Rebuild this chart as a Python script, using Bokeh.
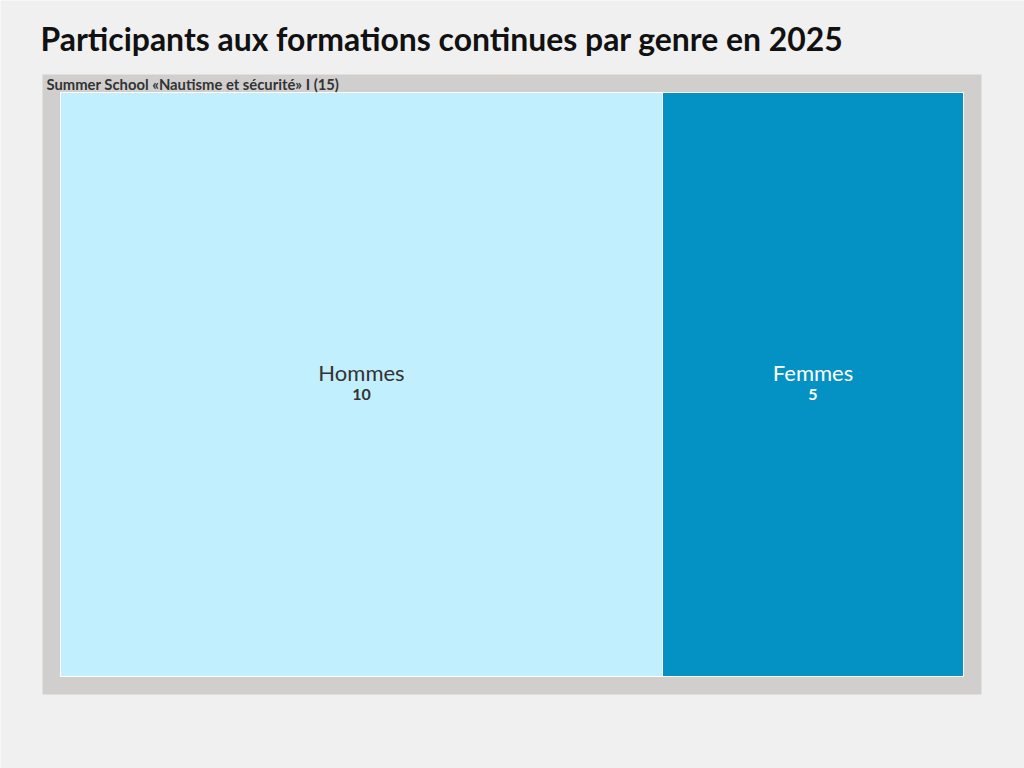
from bokeh.plotting import figure
from bokeh.models import ColumnDataSource, Range1d
from bokeh.core.properties import value
from bokeh.embed import file_html
from bokeh.resources import INLINE

title = "Participants aux formations continues par genre en 2025"
group_name = "Summer School «Nautisme et sécurité» I"
categories = ["Hommes", "Femmes"]
counts = [10, 5]
fill_colors = ["#c2effd", "#0392c3"]
label_colors = ["#333333", "#ffffff"]

BG = "#f0f0f0"
FONT = "Lato"

# data coords = page pixels
p = figure(width=1024, height=768, output_backend="svg", toolbar_location=None,
           x_range=Range1d(0, 1024), y_range=Range1d(768, 0),
           min_border=0, background_fill_color=BG, border_fill_color=BG)
p.axis.visible = False
p.grid.visible = False
p.outline_line_color = None

# outer group box
gx0, gy0, gx1, gy1 = 42, 74, 981, 694
p.quad(left=[gx0], right=[gx1], top=[gy0], bottom=[gy1],
       fill_color="#d1cfce", line_color=None)

# slice layout of the leaves inside the group
ix0, iy0, ix1, iy1 = 60, 92, 963, 676
total = sum(counts)
lefts, rights = [], []
x = ix0
for c in counts:
    w = (ix1 - ix0) * c / total
    lefts.append(x)
    rights.append(x + w)
    x += w

src = ColumnDataSource(dict(
    left=lefts, right=rights, top=[iy0] * len(counts), bottom=[iy1] * len(counts),
    cx=[(l + r) / 2 for l, r in zip(lefts, rights)],
    cy=[(iy0 + iy1) / 2] * len(counts),
    name=categories, val=[str(c) for c in counts],
    fill=fill_colors, tcol=label_colors,
))
p.quad(left="left", right="right", top="top", bottom="bottom", source=src,
       fill_color="fill", line_color="white", line_width=1)

p.text(x="cx", y="cy", text="name", source=src, text_color="tcol",
       text_font=value(FONT), text_font_size="22px",
       text_align="center", text_baseline="middle", y_offset=-12)
p.text(x="cx", y="cy", text="val", source=src, text_color="tcol",
       text_font=value(FONT), text_font_size="16px", text_font_style="bold",
       text_align="center", text_baseline="middle", y_offset=10)

p.text(x=[gx0 + 4], y=[gy0 + 9], text=[f"{group_name} ({total})"],
       text_color="#333333", text_font=value(FONT), text_font_size="14.8px",
       text_font_style="bold", text_baseline="middle")

p.text(x=[40], y=[38], text=[title], text_color="#111111",
       text_font=value(FONT), text_font_size="31.9px", text_font_style="bold",
       text_baseline="middle")

open("out.html", "w").write(file_html(p, INLINE))
